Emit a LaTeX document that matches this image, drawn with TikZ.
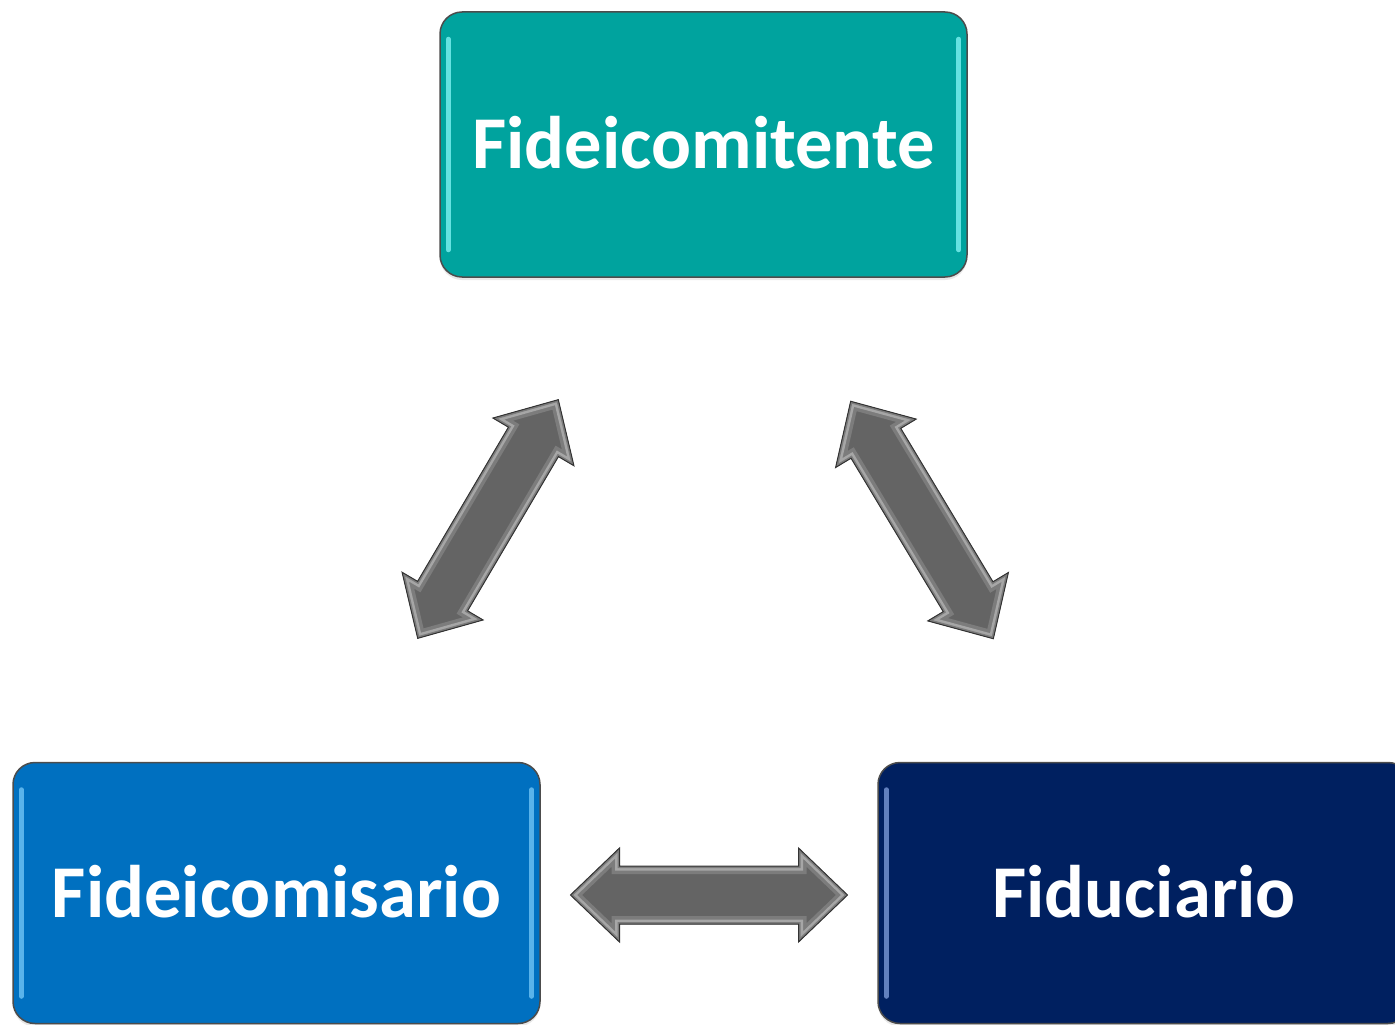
\documentclass[tikz,border=0pt]{standalone}
\usepackage{fontspec}
\setmainfont{Carlito}
\usetikzlibrary{shadows,calc}
\definecolor{tealbox}{HTML}{00A39E}
\definecolor{bluebox}{HTML}{0070C0}
\definecolor{navybox}{HTML}{002060}
\definecolor{tealhl}{HTML}{7FF2F2}
\definecolor{bluehl}{HTML}{70C4F6}
\definecolor{navyhl}{HTML}{7A98D6}
\definecolor{arrowfill}{HTML}{646464}
\definecolor{arrowband}{HTML}{7C7C7C}
\definecolor{arrowlight}{HTML}{A6A6A6}
\newcommand\arrowpoly{(-138.5,0) -- (-89.5,47) -- (-89.5,29) -- (89.5,29) -- (89.5,47) -- (138.5,0) -- (89.5,-47) -- (89.5,-29) -- (-89.5,-29) -- (-89.5,-47) -- cycle}
\tikzset{
  box/.style={draw=black!70, line width=1.5pt, rounded corners=22pt,
    minimum width=527pt, text=white,
    font=\bfseries\fontsize{74.5}{80}\selectfont,
    text height=48pt, text depth=0pt, inner sep=0pt,
    drop shadow={opacity=0.18, shadow xshift=0pt, shadow yshift=-3pt}},
  hl/.style={line width=5pt, line cap=round, opacity=0.8},
  blockarrow/.pic={
    \fill[arrowfill] \arrowpoly;
    \begin{scope}
      \clip \arrowpoly;
      \draw[line width=16pt, arrowband, line join=miter] \arrowpoly;
      \draw[line width=9pt, arrowlight, line join=miter] \arrowpoly;
      \draw[line width=4pt, arrowband, line join=miter] \arrowpoly;
    \end{scope}
    \draw[line width=1pt, black!80, line join=miter] \arrowpoly;
  }
}
\begin{document}
\begin{tikzpicture}[x=1pt,y=1pt]
\useasboundingbox (0,0) rectangle (1395,-1025);
\clip (0,0) rectangle (1395,-1025);
\fill[white] (0,0) rectangle (1395,-1025);

\node[box, fill=tealbox, minimum height=265pt] (top) at (703.5,-144.5) {Fideicomitente};
\node[box, fill=bluebox, minimum height=261pt] (left) at (276.5,-893) {Fideicomisario};
\node[box, fill=navybox, minimum height=261pt, minimum width=532pt] (right) at (1144,-893) {Fiduciario};

\draw[hl, tealhl] ([xshift=9pt,yshift=-28pt]top.north west) -- ([xshift=9pt,yshift=28pt]top.south west);
\draw[hl, tealhl] ([xshift=-9pt,yshift=-28pt]top.north east) -- ([xshift=-9pt,yshift=28pt]top.south east);
\draw[hl, bluehl] ([xshift=9pt,yshift=-28pt]left.north west) -- ([xshift=9pt,yshift=28pt]left.south west);
\draw[hl, bluehl] ([xshift=-9pt,yshift=-28pt]left.north east) -- ([xshift=-9pt,yshift=28pt]left.south east);
\draw[hl, navyhl] ([xshift=9pt,yshift=-28pt]right.north west) -- ([xshift=9pt,yshift=28pt]right.south west);

\pic (a1) [rotate=59.5] at (488,-519) {blockarrow};
\pic (a2) [rotate=121] at (922,-520) {blockarrow};
\pic (a3) at ($(left.east)!0.5!(right.west)+(0,-2)$) {blockarrow};
\end{tikzpicture}
\end{document}
